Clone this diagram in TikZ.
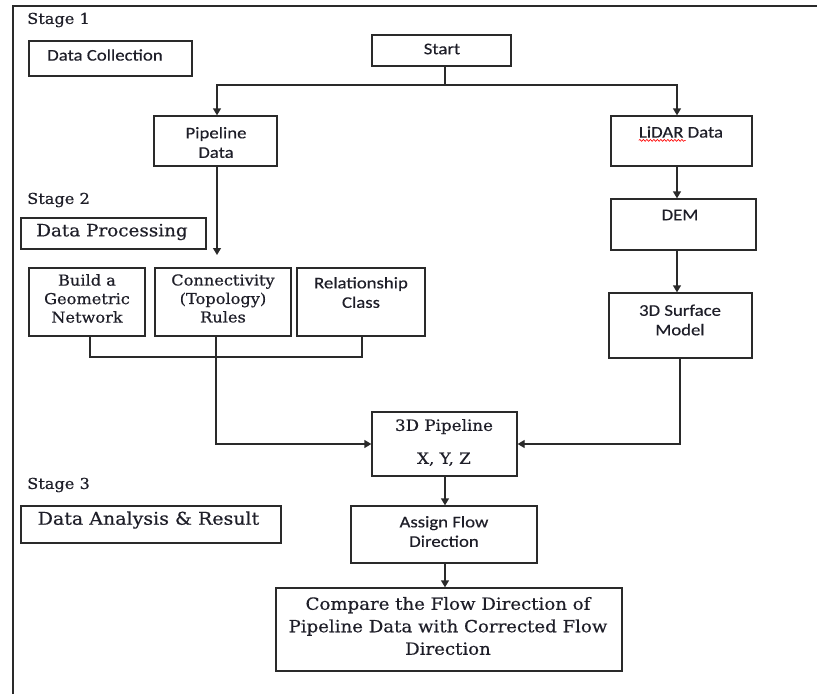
\documentclass[tikz,border=0pt]{standalone}
\usepackage{fontspec}
\usetikzlibrary{arrows.meta,calc,decorations.pathmorphing}
\newfontfamily\srf[FakeStretch=1.08,FakeBold=0.5]{DejaVu Serif}
\newfontfamily\snf[FakeStretch=1.15,FakeBold=0.4]{Carlito}
\definecolor{ln}{HTML}{2A2A2A}
\definecolor{tx}{HTML}{1E1E28}
\tikzset{
  box/.style={draw=ln, line width=1.3pt, minimum width=#1, inner sep=0pt},
  sans/.style={font=\snf\fontsize{16.3}{19.5}\selectfont, text=tx, align=center, inner sep=0pt},
  serifs/.style={font=\srf\fontsize{15}{18.5}\selectfont, text=tx, align=center, inner sep=0pt},
  serifl/.style={font=\srf\fontsize{17}{22}\selectfont, text=tx, align=center, inner sep=0pt},
  stagelbl/.style={font=\srf\fontsize{15}{18}\selectfont, text=tx, anchor=west, inner sep=0pt},
  conn/.style={draw=ln, line width=1.3pt},
  arr/.style={conn, -{Triangle[width=8pt,length=7pt]}},
}
\begin{document}
\begin{tikzpicture}[x=1pt,y=-1pt]
\useasboundingbox (0,0) rectangle (817,694);
% frame
\draw[conn] (13,694) -- (13,6) -- (817,6);

% stage labels
\node[stagelbl] (s1) at (27,20) {Stage 1};
\node[stagelbl] (s2) at (27,200) {Stage 2};
\node[stagelbl] (s3) at (27,485) {Stage 3};

% stage boxes
\node[box=163pt, minimum height=35pt] (dc) at (110.5,58.5) {};
\node[sans] (dct) at (105,55) {Data Collection};
\node[box=185pt, minimum height=31pt] (dp) at (113.5,233.5) {};
\node[serifl] (dpt) at (112,232) {Data Processing};
\node[box=260pt, minimum height=37pt] (da) at (151,524.5) {};
\node[serifl, font=\srf\fontsize{17.6}{22}\selectfont] (dat) at (148.5,520) {Data Analysis \& Result};

% flow boxes
\node[box=139pt, minimum height=31pt] (start) at (441.5,50.5) {};
\node[sans] (startt) at (442,49) {Start};

\node[box=123pt, minimum height=50pt] (pipe) at (215.5,141) {};
\node[sans] (pipet) at (216,142.5) {Pipeline\\Data};

\node[box=141pt, minimum height=50pt] (lidar) at (681.5,141) {};
\node[sans] (lidart) at (681,132) {LiDAR Data};
\draw[red, line width=0.6pt, decorate, decoration={snake, amplitude=1pt, segment length=3.5pt}] ($(lidart.south west)+(0,2.5)$) -- ++(47,0);

\node[box=145pt, minimum height=51pt] (dem) at (683.5,224.5) {};
\node[sans] (demt) at (680,215) {DEM};

\node[box=143pt, minimum height=65pt] (surf) at (680.5,325.5) {};
\node[sans] (surft) at (680,320) {3D Surface\\Model};

\node[box=116pt, minimum height=68pt] (build) at (87,302) {};
\node[serifs] (buildt) at (87,298.5) {Build a\\Geometric\\Network};
\node[box=136pt, minimum height=68pt] (con) at (223,302) {};
\node[serifs] (cont) at (223,298.5) {Connectivity\\(Topology)\\Rules};
\node[box=128pt, minimum height=68pt] (rel) at (361,302) {};
\node[sans] (relt) at (361,292.5) {Relationship\\Class};

\node[box=145pt, minimum height=64pt] (p3d) at (444.5,444) {};
\node[serifl, font=\srf\fontsize{15.5}{33}\selectfont] (p3dt) at (444,442.5) {3D Pipeline\\X, Y, Z};

\node[box=186pt, minimum height=57pt] (assign) at (444,534.5) {};
\node[sans] (assignt) at (444,531.5) {Assign Flow\\Direction};

\node[box=346pt, minimum height=83pt] (cmp) at (449,629.5) {};
\node[serifl, font=\srf\fontsize{16.8}{22.5}\selectfont] (cmpt) at (448,626) {Compare the Flow Direction of\\Pipeline Data with Corrected Flow\\Direction};

% connectors
\coordinate (jl) at (217,85);
\coordinate (jr) at (677,85);
\coordinate (pend) at (217,255);
\draw[conn] (start.south -| 445,0) -- (445,85);
\draw[arr] (445,85) -- (jl) -- (jl |- pipe.north);
\draw[arr] (445,85) -- (jr) -- (jr |- lidar.north);
\draw[arr] (pipe.south -| pend) -- (pend);
\draw[arr] (lidar.south -| jr) -- (jr |- dem.north);
\draw[arr] (dem.south -| jr) -- (jr |- surf.north);
% bracket
\draw[conn] (build.south -| 90,0) -- (90,357) -- (362,357) -- (rel.south -| 362,0);
\draw[arr] (con.south -| 216,0) -- (216,444) -- (p3d.west);
\draw[arr] (surf.south -| 680,0) -- (680,444) -- (p3d.east);
\draw[arr] (p3d.south -| 445,0) -- (assign.north -| 445,0);
\draw[arr] (assign.south -| 445,0) -- (cmp.north -| 445,0);
\end{tikzpicture}
\end{document}
